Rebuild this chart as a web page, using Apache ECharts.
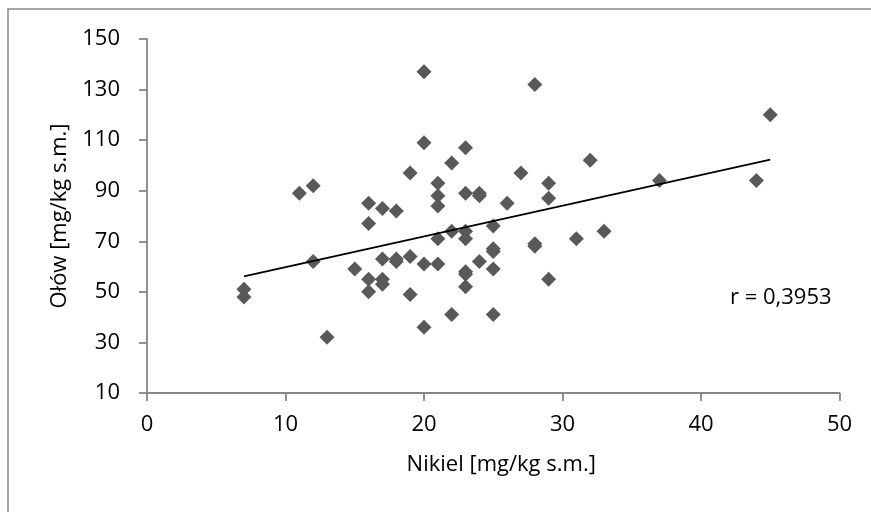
<!DOCTYPE html>
<html>
<head>
<meta charset="utf-8">
<script src="https://cdn.jsdelivr.net/npm/echarts@6/dist/echarts.min.js"></script>
<style>
html,body{margin:0;padding:0;background:#fff;}
#chart{width:871px;height:512px;}
</style>
</head>
<body>
<div id="chart"></div>
<script>
// Nikiel [mg/kg s.m.] (x) and Ołów [mg/kg s.m.] (y)
var nikiel = [7, 7, 11, 12, 12, 13, 15, 16, 16, 16, 16, 17, 17, 17, 17, 18, 18, 18, 19, 19, 19,
  20, 20, 20, 20, 21, 21, 21, 21, 21, 22, 22, 22, 23, 23, 23, 23, 23, 23, 23,
  24, 24, 24, 25, 25, 25, 25, 25, 26, 27, 28, 28, 28, 29, 29, 29, 31, 32, 33, 37, 44, 45];
var olow = [51, 48, 89, 92, 62, 32, 59, 85, 77, 55, 50, 83, 63, 55, 53, 82, 62, 63, 97, 64, 49,
  137, 109, 61, 36, 93, 88, 84, 71, 61, 101, 74, 41, 107, 89, 74, 71, 58, 57, 52,
  89, 88, 62, 76, 67, 66, 59, 41, 85, 97, 132, 69, 68, 93, 87, 55, 71, 102, 74, 94, 94, 120];
// trend line endpoints
var trendX = [7, 45];
var trendY = [56.1, 102.3];
var xTicks = [0, 10, 20, 30, 40, 50];
var yTicks = [10, 30, 50, 70, 90, 110, 130, 150];
var rLabel = 'r = 0,3953';
var xTitle = 'Nikiel [mg/kg s.m.]';
var yTitle = 'Ołów [mg/kg s.m.]';

var points = nikiel.map(function (x, i) { return [x, olow[i]]; });
var trend = trendX.map(function (x, i) { return [x, trendY[i]]; });

var FONT = '"Open Sans"';
var FS = 22;
var axisColor = '#868686';
var chart = echarts.init(document.getElementById('chart'), null, {renderer: 'canvas'});
chart.setOption({
  backgroundColor: '#ffffff',
  animation: false,
  grid: {left: 147, top: 39, width: 692.5, height: 354, containLabel: false},
  xAxis: {
    type: 'value',
    min: xTicks[0], max: xTicks[xTicks.length - 1], interval: xTicks[1] - xTicks[0],
    name: xTitle, nameLocation: 'middle', nameGap: 61,
    nameTextStyle: {fontFamily: FONT, fontSize: FS, color: '#000', padding: [0, 0, 0, 16]},
    axisLine: {show: true, onZero: false, lineStyle: {color: axisColor, width: 1.8}},
    axisTick: {show: true, inside: false, length: 8, lineStyle: {color: axisColor, width: 1.8}},
    axisLabel: {fontFamily: FONT, fontSize: FS, color: '#000', margin: 21},
    splitLine: {show: false}
  },
  yAxis: {
    type: 'value',
    min: yTicks[0], max: yTicks[yTicks.length - 1], interval: yTicks[1] - yTicks[0],
    name: yTitle, nameLocation: 'middle', nameGap: 76, nameRotate: 90,
    nameTextStyle: {fontFamily: FONT, fontSize: FS, color: '#000'},
    axisLine: {show: true, onZero: false, lineStyle: {color: axisColor, width: 1.8}},
    axisTick: {show: true, inside: false, length: 8, lineStyle: {color: axisColor, width: 1.8}},
    axisLabel: {fontFamily: FONT, fontSize: FS, color: '#000', margin: 27},
    splitLine: {show: false}
  },
  series: [
    {
      type: 'scatter',
      data: points,
      symbol: 'diamond',
      symbolSize: [15, 15],
      itemStyle: {color: '#595959', opacity: 1},
      z: 2
    },
    {
      type: 'line',
      data: trend,
      showSymbol: false,
      symbol: 'none',
      lineStyle: {color: '#000', width: 1.8},
      z: 3
    }
  ],
  graphic: [
    {
      type: 'rect',
      shape: {x: 8, y: 9, width: 900, height: 600},
      style: {fill: 'none', stroke: '#888888', lineWidth: 1.5},
      silent: true
    },
    {
      type: 'text',
      left: 730, top: 287,
      style: {text: rLabel, fontFamily: FONT, fontSize: FS, fill: '#000'}
    }
  ]
});
</script>
</body>
</html>
